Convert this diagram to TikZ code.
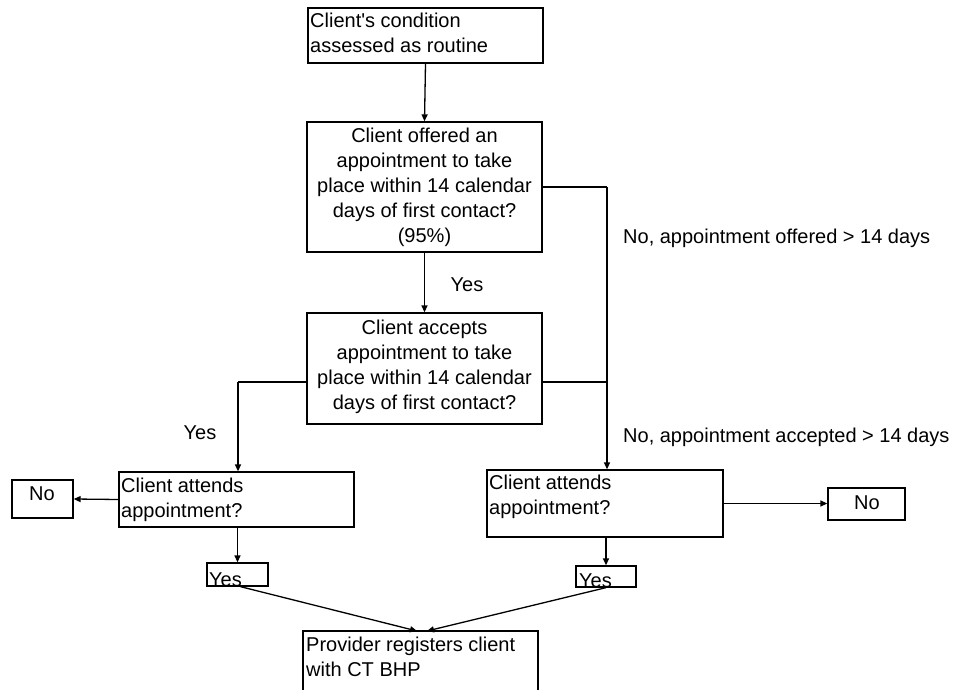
\documentclass[tikz,border=0pt]{standalone}
\usepackage{fontspec}
\setmainfont{Liberation Sans}
\usetikzlibrary{arrows.meta}
\begin{document}
\begin{tikzpicture}[x=1pt,y=-1pt,
  box/.style={draw, line width=1.3pt, inner sep=0pt},
  txt/.style={inner sep=0pt, font=\fontsize{20}{25}\selectfont},
  conn/.style={line width=1.3pt},
  arr/.style={line width=1.3pt, -{Triangle[length=7pt,width=6pt]}}]
\useasboundingbox (0,0) rectangle (954,690);
% boxes
\node[box, minimum width=235pt, minimum height=55pt] (b1) at (425.5,35.5) {};
\node[box, minimum width=235pt, minimum height=130pt] (b2) at (424.5,187) {};
\node[box, minimum width=235pt, minimum height=111pt] (b3) at (424.5,368.5) {};
\node[box, minimum width=235pt, minimum height=55pt] (b4) at (236.5,499.5) {};
\node[box, minimum width=61pt, minimum height=38pt] (n4) at (42.5,499) {};
\node[box, minimum width=61pt, minimum height=23pt] (y4) at (237.5,574.5) {};
\node[box, minimum width=236pt, minimum height=67pt] (b5) at (605,503.5) {};
\node[box, minimum width=77pt, minimum height=32pt] (n5) at (866.5,504) {};
\node[box, minimum width=60pt, minimum height=21pt] (y5) at (606,576.5) {};
\node[box, minimum width=235pt, minimum height=69pt] (b6) at (420.5,665.5) {};
% texts
\node[txt, anchor=north west, align=left] (t1) at (310,13) {Client\textquotesingle s condition\\assessed as routine};
\node[txt, anchor=north, align=center] (t2) at (424.5,128) {Client offered an\\appointment to take\\place within 14 calendar\\days of first contact?\\(95\%)};
\node[txt, anchor=north, align=center] (t3) at (424.5,320) {Client accepts\\appointment to take\\place within 14 calendar\\days of first contact?};
\node[txt, anchor=north west, align=left] (t4) at (121,477.5) {Client attends\\appointment?};
\node[txt, anchor=north west, align=left] (t5) at (489,475) {Client attends\\appointment?};
\node[txt] (tn4) at (42,494) {No};
\node[txt] (tn5) at (867,503) {No};
\node[txt, anchor=base west] (ty4) at (209,586) {Yes};
\node[txt, anchor=base west] (ty5) at (579,587) {Yes};
\node[txt, anchor=north west, align=left] (t6) at (306,637) {Provider registers client\\with CT BHP};
% labels
\node[txt] (l1) at (467,285) {Yes};
\node[txt] (l2) at (200,433) {Yes};
\node[txt, anchor=west] (l3) at (623,238) {No, appointment offered > 14 days};
\node[txt, anchor=west] (l4) at (623,437) {No, appointment accepted > 14 days};
% connector coordinates
\coordinate (c1) at (607,187);
\coordinate (c2) at (607,382);
\coordinate (c3) at (542,382);
\coordinate (c4) at (307,382);
\coordinate (c5) at (238,382);
\coordinate (e1) at (417,631);
\coordinate (e2) at (427,631);
% connectors
\draw[arr] (b1.south) -- (b2.north);
\draw[arr] (b2.south) -- (b3.north);
\draw[conn] (b2.east) -- (c1);
\draw[arr] (c1) -- (c1 |- b5.north);
\draw[conn] (c3) -- (c2);
\draw[conn] (c4) -- (c5);
\draw[arr] (c5) -- (c5 |- b4.north);
\draw[arr] (b4.west) -- (n4.east);
\draw[arr] (b4.south -| y4.north) -- (y4.north);
\draw[arr] (b5.east) -- (b5.east -| n5.west);
\draw[arr] (b5.south -| y5.north) -- (y5.north);
\draw[arr] ([xshift=3pt]y4.south) -- (e1);
\draw[arr] (y5.south) -- (e2);
\end{tikzpicture}
\end{document}
